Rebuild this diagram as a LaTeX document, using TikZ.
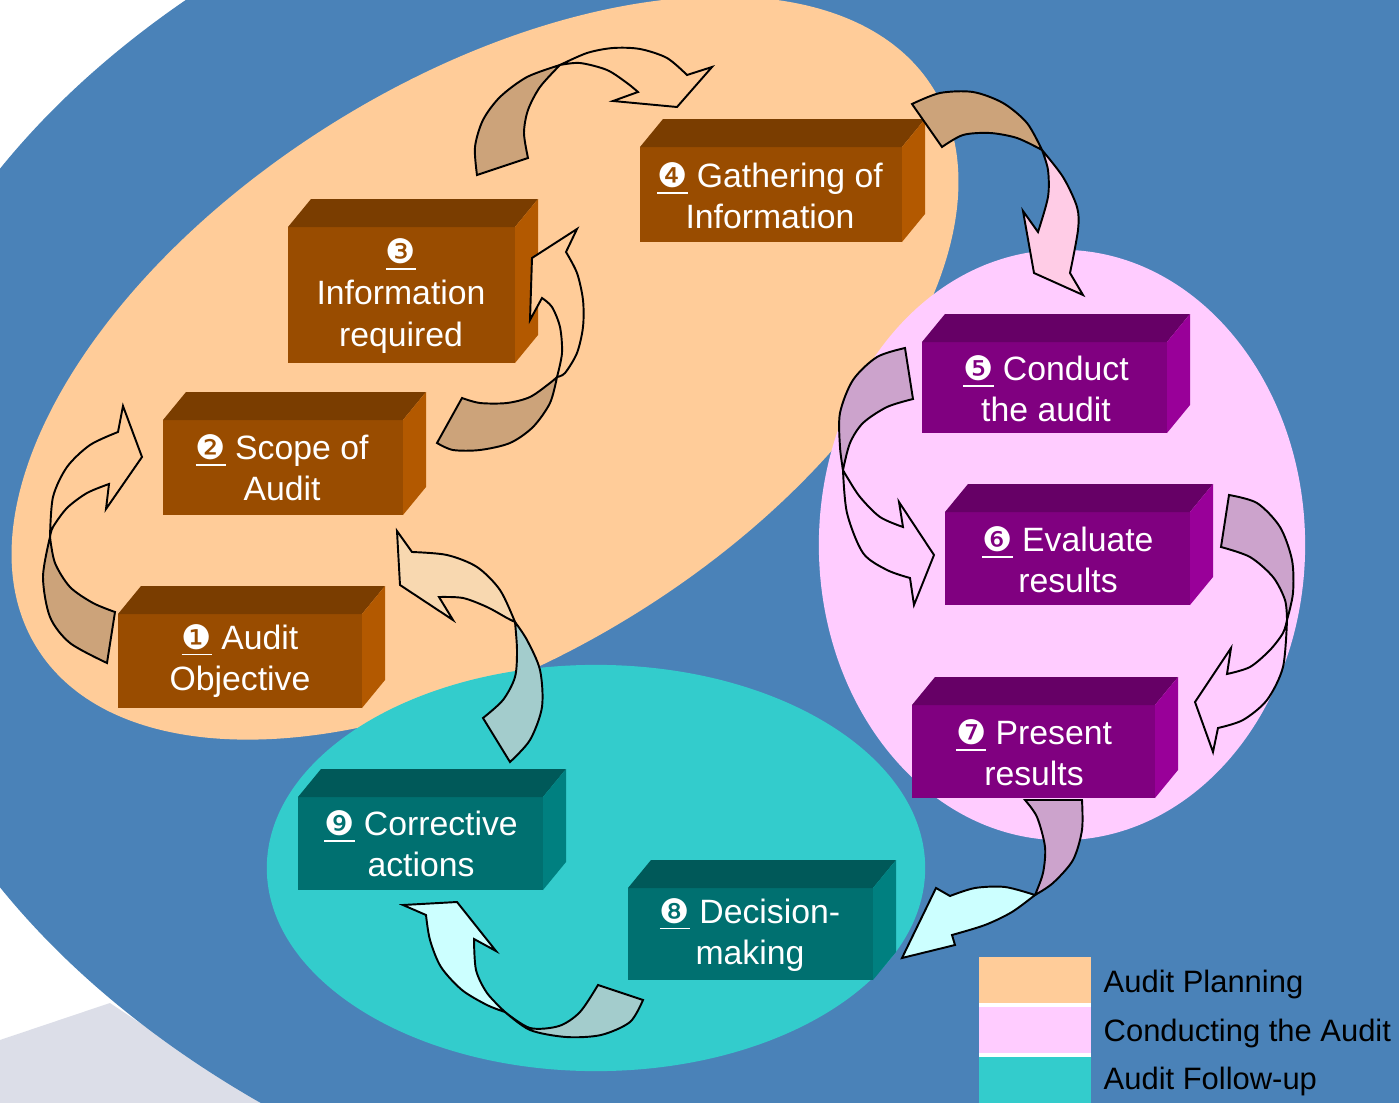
\documentclass[tikz,border=0pt]{standalone}
\usepackage{fontspec}
\setmainfont{Liberation Sans}
\newfontfamily\dejavu{DejaVu Sans}

\definecolor{bgblue}{HTML}{4A82B8}
\definecolor{planfill}{HTML}{FFCC99}
\definecolor{conductfill}{HTML}{FFCCFF}
\definecolor{followfill}{HTML}{33CCCC}
\definecolor{brownfront}{HTML}{994C00}
\definecolor{browntop}{HTML}{7A3D00}
\definecolor{brownside}{HTML}{B35900}
\definecolor{purplefront}{HTML}{800080}
\definecolor{purpletop}{HTML}{660066}
\definecolor{purpleside}{HTML}{990099}
\definecolor{tealfront}{HTML}{007070}
\definecolor{tealtop}{HTML}{005959}
\definecolor{tealside}{HTML}{008080}
\definecolor{tanarrow}{HTML}{CCA37A}
\definecolor{lilacarrow}{HTML}{CCA3CC}
\definecolor{greyarrow}{HTML}{A3CCCC}
\definecolor{pinkhead}{HTML}{FFCCE6}
\definecolor{cyanhead}{HTML}{CCFFFF}
\definecolor{peachhead}{HTML}{F8D8B0}
\definecolor{sheen}{HTML}{DCDEE8}

\newcommand{\circnum}[1]{\underline{\dejavu #1}}
% front x1,y1,x2,y2 and the three face colours
\newcommand{\cubebox}[7]{%
  \fill[#5] (#1,#2) rectangle (#3,#4);
  \fill[#6] (#1,#2) -- ++(23,-28) -- ({#3+23},{#2-28}) -- (#3,#2) -- cycle;
  \fill[#7] (#3,#2) -- ({#3+23},{#2-28}) -- ({#3+23},{#4-28}) -- (#3,#4) -- cycle;
}

\tikzset{
  boxtext/.style={text=white, align=center, inner sep=0pt, font=\fontsize{9.6}{11.7}\selectfont},
  legendtext/.style={anchor=base west, inner sep=0pt, font=\fontsize{8.8}{10}\selectfont},
  arrowline/.style={draw=black, line width=0.55pt, line join=miter},
}

\begin{document}
\begin{tikzpicture}[x=0.01cm,y=-0.01cm]
\useasboundingbox (0,0) rectangle (1399,1103);
\clip (0,0) rectangle (1399,1103);
\fill[white] (0,0) rectangle (1399,1103);
\fill[sheen] (0,1040) -- (110,1003) -- (260,1103) -- (0,1103) -- cycle;
\fill[bgblue] (1000,528) ellipse [x radius=11.35cm, y radius=7.57cm];

% the three phases
\fill[planfill, rotate around={32:(485,368)}] (485,368) ellipse [x radius=5.28cm, y radius=2.88cm];
\fill[conductfill] (1062,545) ellipse [x radius=2.43cm, y radius=2.95cm];
\fill[followfill] (596,868) ellipse [x radius=3.29cm, y radius=2.03cm];

% boxes
\cubebox{118}{614}{362}{708}{brownfront}{browntop}{brownside}
\cubebox{163}{420}{403}{515}{brownfront}{browntop}{brownside}
\cubebox{288}{227}{515}{363}{brownfront}{browntop}{brownside}
\cubebox{640}{147}{902}{242}{brownfront}{browntop}{brownside}
\cubebox{922}{342}{1167}{433}{purplefront}{purpletop}{purpleside}
\cubebox{945}{512}{1190}{605}{purplefront}{purpletop}{purpleside}
\cubebox{912}{705}{1155}{798}{purplefront}{purpletop}{purpleside}
\cubebox{628}{888}{873}{980}{tealfront}{tealtop}{tealside}
\cubebox{298}{797}{543}{890}{tealfront}{tealtop}{tealside}

\node[boxtext] (objective) at (240,661) {\circnum{❶} Audit\\Objective};
\node[boxtext] (scope) at (282,468) {\circnum{❷} Scope of\\Audit};
\node[boxtext] (required) at (401,296) {\circnum{❸}\\Information\\required};
\node[boxtext] (gathering) at (770,196) {\circnum{❹} Gathering of\\Information};
\node[boxtext] (conduct) at (1046,389) {\circnum{❺} Conduct\\the audit};
\node[boxtext] (evaluate) at (1068,560) {\circnum{❻} Evaluate\\results};
\node[boxtext] (present) at (1034,753) {\circnum{❼} Present\\results};
\node[boxtext] (decision) at (750,935) {\circnum{❽} Decision-\\making};
\node[boxtext] (corrective) at (421,844) {\circnum{❾} Corrective\\actions};

% 1 -> 2
\filldraw[arrowline, fill=tanarrow] plot[smooth] coordinates {(50,537) (43,577) (50,617) (70,643) (107,663)}
  -- plot[smooth] coordinates {(115,612) (93,603) (70,587) (55,563) (50,537)} -- cycle;
\filldraw[arrowline, fill=planfill] plot[smooth] coordinates {(50,537) (53,497) (67,467) (90,445) (118,432)}
  -- (123,406) -- (142,457) -- (106,509)
  -- plot[smooth] coordinates {(109,484) (87,493) (67,508) (53,527) (50,537)} -- cycle;
% 2 -> 3
\filldraw[arrowline, fill=tanarrow] plot[smooth] coordinates {(462,398) (480,403) (507,403) (530,397) (550,383) (557,377)}
  -- plot[smooth] coordinates {(557,377) (550,403) (533,427) (510,443) (480,450) (453,450) (437,443)} -- cycle;
\filldraw[arrowline, fill=planfill] plot[smooth] coordinates {(557,377) (562,353) (560,327) (552,307) (542,298)}
  -- (530,320) -- (532,258) -- (577,229)
  -- plot[smooth] coordinates {(566,252) (577,273) (583,300) (583,327) (577,353) (565,373) (557,377)} -- cycle;
% 3 -> 4
\filldraw[arrowline, fill=tanarrow] plot[smooth] coordinates {(477,175) (475,147) (483,120) (500,97) (527,77) (560,65)}
  -- plot[smooth] coordinates {(560,65) (540,87) (528,110) (524,133) (528,158)} -- cycle;
\filldraw[arrowline, fill=planfill] plot[smooth] coordinates {(560,65) (580,63) (607,70) (627,83) (638,92)}
  -- (613,101) -- (677,107) -- (712,67)
  -- plot[smooth] coordinates {(687,75) (667,58) (640,49) (613,48) (587,53) (560,65)} -- cycle;
% 4 -> 5
\filldraw[arrowline, fill=tanarrow] plot[smooth] coordinates {(912,104) (940,93) (973,92) (1003,103) (1027,123) (1042,150)}
  -- plot[smooth] coordinates {(1042,150) (1017,138) (990,133) (963,135) (942,147)} -- cycle;
\filldraw[arrowline, fill=pinkhead] plot[smooth] coordinates {(1042,150) (1048,170) (1048,197) (1038,232)}
  -- (1023,211) -- (1034,273) -- (1083,295)
  -- plot[smooth] coordinates {(1070,273) (1078,230) (1077,207) (1063,177) (1042,150)} -- cycle;
% 5 -> 6
\filldraw[arrowline, fill=lilacarrow] plot[smooth] coordinates {(905,348) (877,357) (853,380) (840,413) (840,447) (843,470)}
  -- plot[smooth] coordinates {(843,470) (850,443) (863,423) (887,407) (913,399)} -- cycle;
\filldraw[arrowline, fill=conductfill] plot[smooth] coordinates {(843,470) (847,513) (863,553) (887,570) (910,578)}
  -- (914,605) -- (934,555) -- (899,502)
  -- plot[smooth] coordinates {(903,527) (880,517) (860,497) (847,477) (843,470)} -- cycle;
% 6 -> 7
\filldraw[arrowline, fill=lilacarrow] plot[smooth] coordinates {(1229,495) (1257,503) (1280,527) (1292,560) (1293,593) (1287,620)}
  -- plot[smooth] coordinates {(1287,620) (1285,600) (1273,577) (1250,557) (1221,547)} -- cycle;
\filldraw[arrowline, fill=conductfill] plot[smooth] coordinates {(1287,620) (1283,667) (1267,700) (1243,720) (1218,728)}
  -- (1213,752) -- (1195,702) -- (1231,648)
  -- plot[smooth] coordinates {(1227,674) (1250,667) (1270,650) (1283,633) (1287,620)} -- cycle;
% 7 -> 8
\filldraw[arrowline, fill=lilacarrow] plot[smooth] coordinates {(1025,800) (1037,817) (1045,847) (1043,873) (1035,895)}
  -- plot[smooth] coordinates {(1035,895) (1053,883) (1073,860) (1082,830) (1082,800)} -- cycle;
\filldraw[arrowline, fill=cyanhead] plot[smooth] coordinates {(1035,895) (1005,887) (975,888) (950,896)}
  -- (936,888) -- (902,958) -- (955,945)
  -- plot[smooth] coordinates {(952,935) (985,925) (1012,912) (1035,895)} -- cycle;
% 8 -> 9
\filldraw[arrowline, fill=greyarrow] plot[smooth] coordinates {(505,1012) (530,1028) (559,1026) (580,1012) (598,985)}
  -- plot[smooth] coordinates {(643,1000) (630,1022) (601,1035) (566,1037) (530,1030) (505,1012)} -- cycle;
\filldraw[arrowline, fill=cyanhead] plot[smooth] coordinates {(505,1012) (487,993) (476,970) (474,939)}
  -- (496,951) -- (457,902) -- (403,905)
  -- plot[smooth] coordinates {(426,915) (430,940) (441,967) (462,990) (487,1005) (505,1012)} -- cycle;
% 9 -> 2
\filldraw[arrowline, fill=greyarrow] plot[smooth] coordinates {(510,762) (530,740) (542,707) (540,670) (527,640) (515,622)}
  -- plot[smooth] coordinates {(515,622) (517,650) (515,677) (503,700) (483,718)} -- cycle;
\filldraw[arrowline, fill=peachhead] plot[smooth] coordinates {(515,622) (500,590) (477,567) (447,555) (412,552)}
  -- (397,531) -- (400,585) -- (453,620)
  -- plot[smooth] coordinates {(439,597) (463,598) (487,607) (507,618) (515,622)} -- cycle;

% legend
\fill[planfill] (979,957) rectangle (1091,1003);
\fill[conductfill] (979,1007) rectangle (1091,1053);
\fill[followfill] (979,1057) rectangle (1091,1103);
\fill[white] (979,1003) rectangle (1091,1007);
\fill[white] (979,1053) rectangle (1091,1057);
\node[legendtext] (lgplan) at (1103,992) {Audit Planning};
\node[legendtext] (lgconduct) at (1103,1041) {Conducting the Audit};
\node[legendtext] (lgfollow) at (1103,1089) {Audit Follow-up};
\end{tikzpicture}
\end{document}
